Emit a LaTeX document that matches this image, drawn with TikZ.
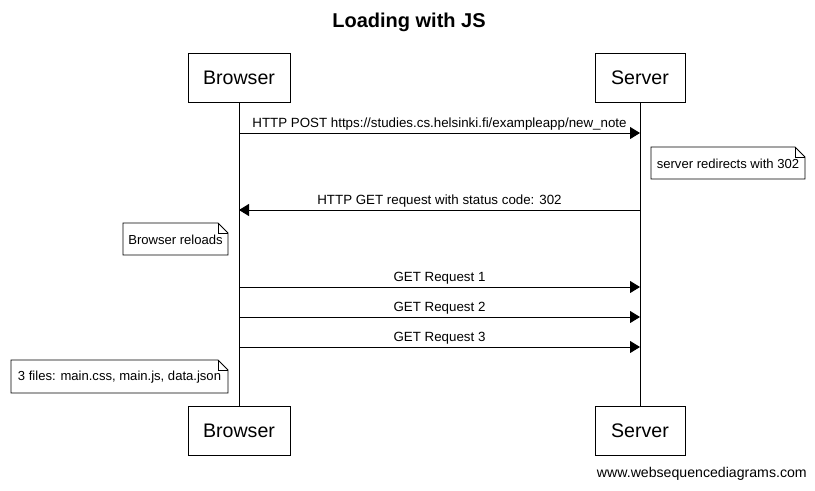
\documentclass[tikz,border=0pt]{standalone}
\usepackage{fontspec}
\setmainfont{Liberation Sans}
\usetikzlibrary{arrows.meta}
\begin{document}
\begin{tikzpicture}[x=0.75pt,y=-0.75pt,
  actor/.style={draw,line width=0.75pt,minimum width=#1,minimum height=36.75pt,inner sep=0pt,font=\fontsize{14.7}{18}\selectfont},
  msg/.style={-{Triangle[length=7.5pt,width=9pt]},line width=0.75pt},
  lbl/.style={font=\fontsize{10}{12}\selectfont,inner sep=0pt},
  nlbl/.style={font=\fontsize{9.8}{12}\selectfont,inner sep=0pt},
  lifeline/.style={line width=0.75pt}]
\useasboundingbox (0,0) rectangle (815,490);
% title
\node[font=\bfseries\fontsize{15}{18}\selectfont] (title) at (409,22) {Loading with JS};
% actors
\node[actor=76.5pt] (bt) at (239,77.5) {Browser};
\node[actor=67.5pt] (st) at (640,77.5) {Server};
\node[actor=76.5pt] (bb) at (239,431) {Browser};
\node[actor=67.5pt] (sb) at (640,431) {Server};
\draw[lifeline] (bt.south) -- (bb.north);
\draw[lifeline] (st.south) -- (sb.north);
% message anchor coordinates
\coordinate (b1) at (239,133); \coordinate (s1) at (640,133);
\coordinate (b2) at (239,210); \coordinate (s2) at (640,210);
\coordinate (b3) at (239,287); \coordinate (s3) at (640,287);
\coordinate (b4) at (239,317); \coordinate (s4) at (640,317);
\coordinate (b5) at (239,347); \coordinate (s5) at (640,347);
\draw[msg] (b1) -- node[lbl,above=2pt] (l1) {HTTP POST https://studies.cs.helsinki.fi/exampleapp/new\_note} (s1);
\draw[msg] (s2) -- node[lbl,above=2pt] (l2) {HTTP GET request with status code: 302} (b2);
\draw[msg] (b3) -- node[lbl,above=2pt] (l3) {GET Request 1} (s3);
\draw[msg] (b4) -- node[lbl,above=2pt] (l4) {GET Request 2} (s4);
\draw[msg] (b5) -- node[lbl,above=2pt] (l5) {GET Request 3} (s5);
% notes
\newcommand{\notebox}[5]{% x1 y1 x2 y2 text
  \draw[line width=0.6pt] (#1,#2) -- (#3-10,#2) -- (#3,#2+10) -- (#3,#4) -- (#1,#4) -- cycle;
  \draw[line width=0.5pt] (#3-10,#2) -- (#3-10,#2+10) -- (#3,#2+10);
  \node[nlbl] at ({(#1+#3)/2},{(#2+#4)/2+1}) {#5};}
\notebox{651}{147}{805}{179}{server redirects with 302}
\notebox{123}{223}{228}{255}{Browser reloads}
\notebox{11}{360}{228}{393}{3 files: main.css, main.js, data.json}
% footer
\node[font=\fontsize{10.6}{12}\selectfont,inner sep=0pt,anchor=east] (foot) at (807,474) {www.websequencediagrams.com};
\end{tikzpicture}
\end{document}
